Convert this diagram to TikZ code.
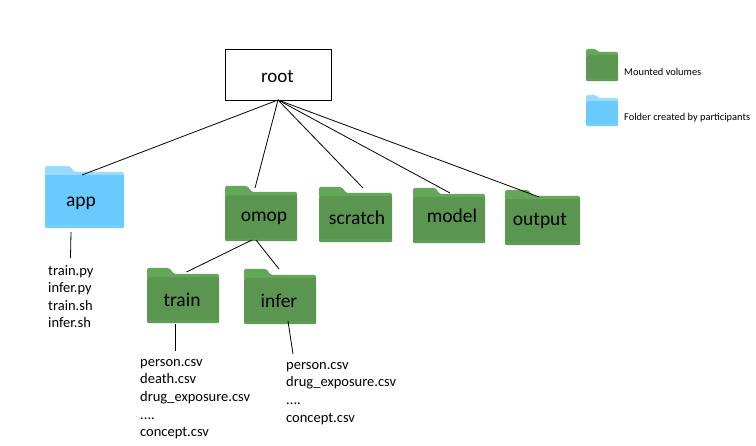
\documentclass[tikz,border=0pt]{standalone}
\usepackage{fontspec}
\setmainfont{Carlito}
\definecolor{gbody}{HTML}{5A964F}
\definecolor{gtab}{HTML}{62A858}
\definecolor{gfoot}{HTML}{5F9C55}
\definecolor{bbody}{HTML}{69CBFD}
\definecolor{btab}{HTML}{9ADBFF}
\definecolor{bfoot}{HTML}{74CFFD}
\tikzset{
 conn/.style={draw=black,line width=0.8pt},
 rootbox/.style={draw=black,line width=0.8pt,fill=white,minimum width=106pt,minimum height=51pt,inner sep=0pt},
 rootlabel/.style={font=\fontsize{19}{21}\selectfont,inner sep=0pt,text=black},
 flabel/.style={font=\fontsize{19.5}{22}\selectfont,text=black,inner sep=0pt,anchor=center},
 listtext/.style={font=\fontsize{14.5}{17.6}\selectfont,align=left,anchor=north west,inner sep=0pt,text=black},
 legendtext/.style={font=\fontsize{10.4}{12}\selectfont,anchor=west,inner sep=0pt,text=black},
}
% name, left, top, width, height, tab colour, body colour, tab height, foot colour
\newcommand{\myfolder}[9]{%
 \fill[#6,rounded corners=1.5pt] (#2,#3+#8+5) -- (#2,#3) -- (#2+0.31*#4,#3) -- (#2+0.375*#4,#3+#8) -- (#2+#4,#3+#8) -- (#2+#4,#3+#8+5) -- cycle;
 \node[fill=#7,rounded corners=1.5pt,minimum width=#4 pt,minimum height=#5 pt-#8 pt-3pt,inner sep=0pt,anchor=north west] (#1) at (#2,#3+#8+3) {};
 \fill[#9,rounded corners=1pt] (#2,#3+#5-3) rectangle (#2+#4,#3+#5);
}
\begin{document}
\begin{tikzpicture}[x=1pt,y=-1pt]
\useasboundingbox (0,0) rectangle (756,446);
\fill[white] (0,0) rectangle (756,446);
\myfolder{app}{45}{166}{79}{62}{btab}{bbody}{6}{bfoot}
\myfolder{omop}{225}{186}{72}{55}{gtab}{gbody}{6}{gfoot}
\myfolder{scratch}{319}{187}{73}{55}{gtab}{gbody}{6}{gfoot}
\myfolder{model}{413}{188}{72}{55}{gtab}{gbody}{6}{gfoot}
\myfolder{output}{505}{190}{75}{55}{gtab}{gbody}{6}{gfoot}
\myfolder{train}{147}{268}{72}{55}{gtab}{gbody}{6}{gfoot}
\myfolder{infer}{244}{269}{72}{55}{gtab}{gbody}{6}{gfoot}
\myfolder{legG}{586}{49}{32}{32}{gtab}{gbody}{3}{gfoot}
\myfolder{legB}{586}{95}{32}{31}{btab}{bbody}{3}{bfoot}
\node[rootbox] (root) at (278,74.5) {};
\node[rootlabel] (rootl) at (277.5,76.5) {root};
\node[flabel] (lapp) at (81,203) {app};
\node[flabel] (lomop) at (264,218) {omop};
\node[flabel] (lscr) at (357,218) {scratch};
\node[flabel] (lmod) at (452,216) {model};
\node[flabel] (lout) at (540,221) {output};
\node[flabel] (ltr) at (182,300) {train};
\node[flabel] (lin) at (279,301) {infer};
\node[legendtext] (lg) at (624,72) {Mounted volumes};
\node[legendtext] (lb) at (624,118) {Folder created by participants};
\node[listtext] (l1) at (48,265) {train.py\\infer.py\\train.sh\\infer.sh};
\node[listtext] (l2) at (140,359) {person.csv\\death.csv\\drug\_exposure.csv\\....\\concept.csv};
\node[listtext] (l3) at (286,362) {person.csv\\drug\_exposure.csv\\....\\concept.csv};
\coordinate (ra) at (278,100);
\coordinate (eapp) at (82,175);
\coordinate (eomop) at (255,188);
\coordinate (escr) at (363,188);
\coordinate (emod) at (450,193);
\coordinate (eout) at (539,197);
\coordinate (oa) at (252,240);
\coordinate (ob) at (256,240);
\coordinate (etr) at (186.5,272);
\coordinate (ein) at (279,269);
\coordinate (aa) at (71,232);
\coordinate (ab) at (70.5,258);
\coordinate (ta) at (175,324);
\coordinate (tb) at (175,351);
\coordinate (ia) at (288,321);
\coordinate (ib) at (293,354);
\draw[conn] (ra) -- (eapp);
\draw[conn] (ra) -- (eomop);
\draw[conn] (ra) -- (escr);
\draw[conn] (ra) -- (emod);
\draw[conn] (ra) -- (eout);
\draw[conn] (oa) -- (etr);
\draw[conn] (ob) -- (ein);
\draw[conn] (aa) -- (ab);
\draw[conn] (ta) -- (tb);
\draw[conn] (ia) -- (ib);
\end{tikzpicture}
\end{document}
